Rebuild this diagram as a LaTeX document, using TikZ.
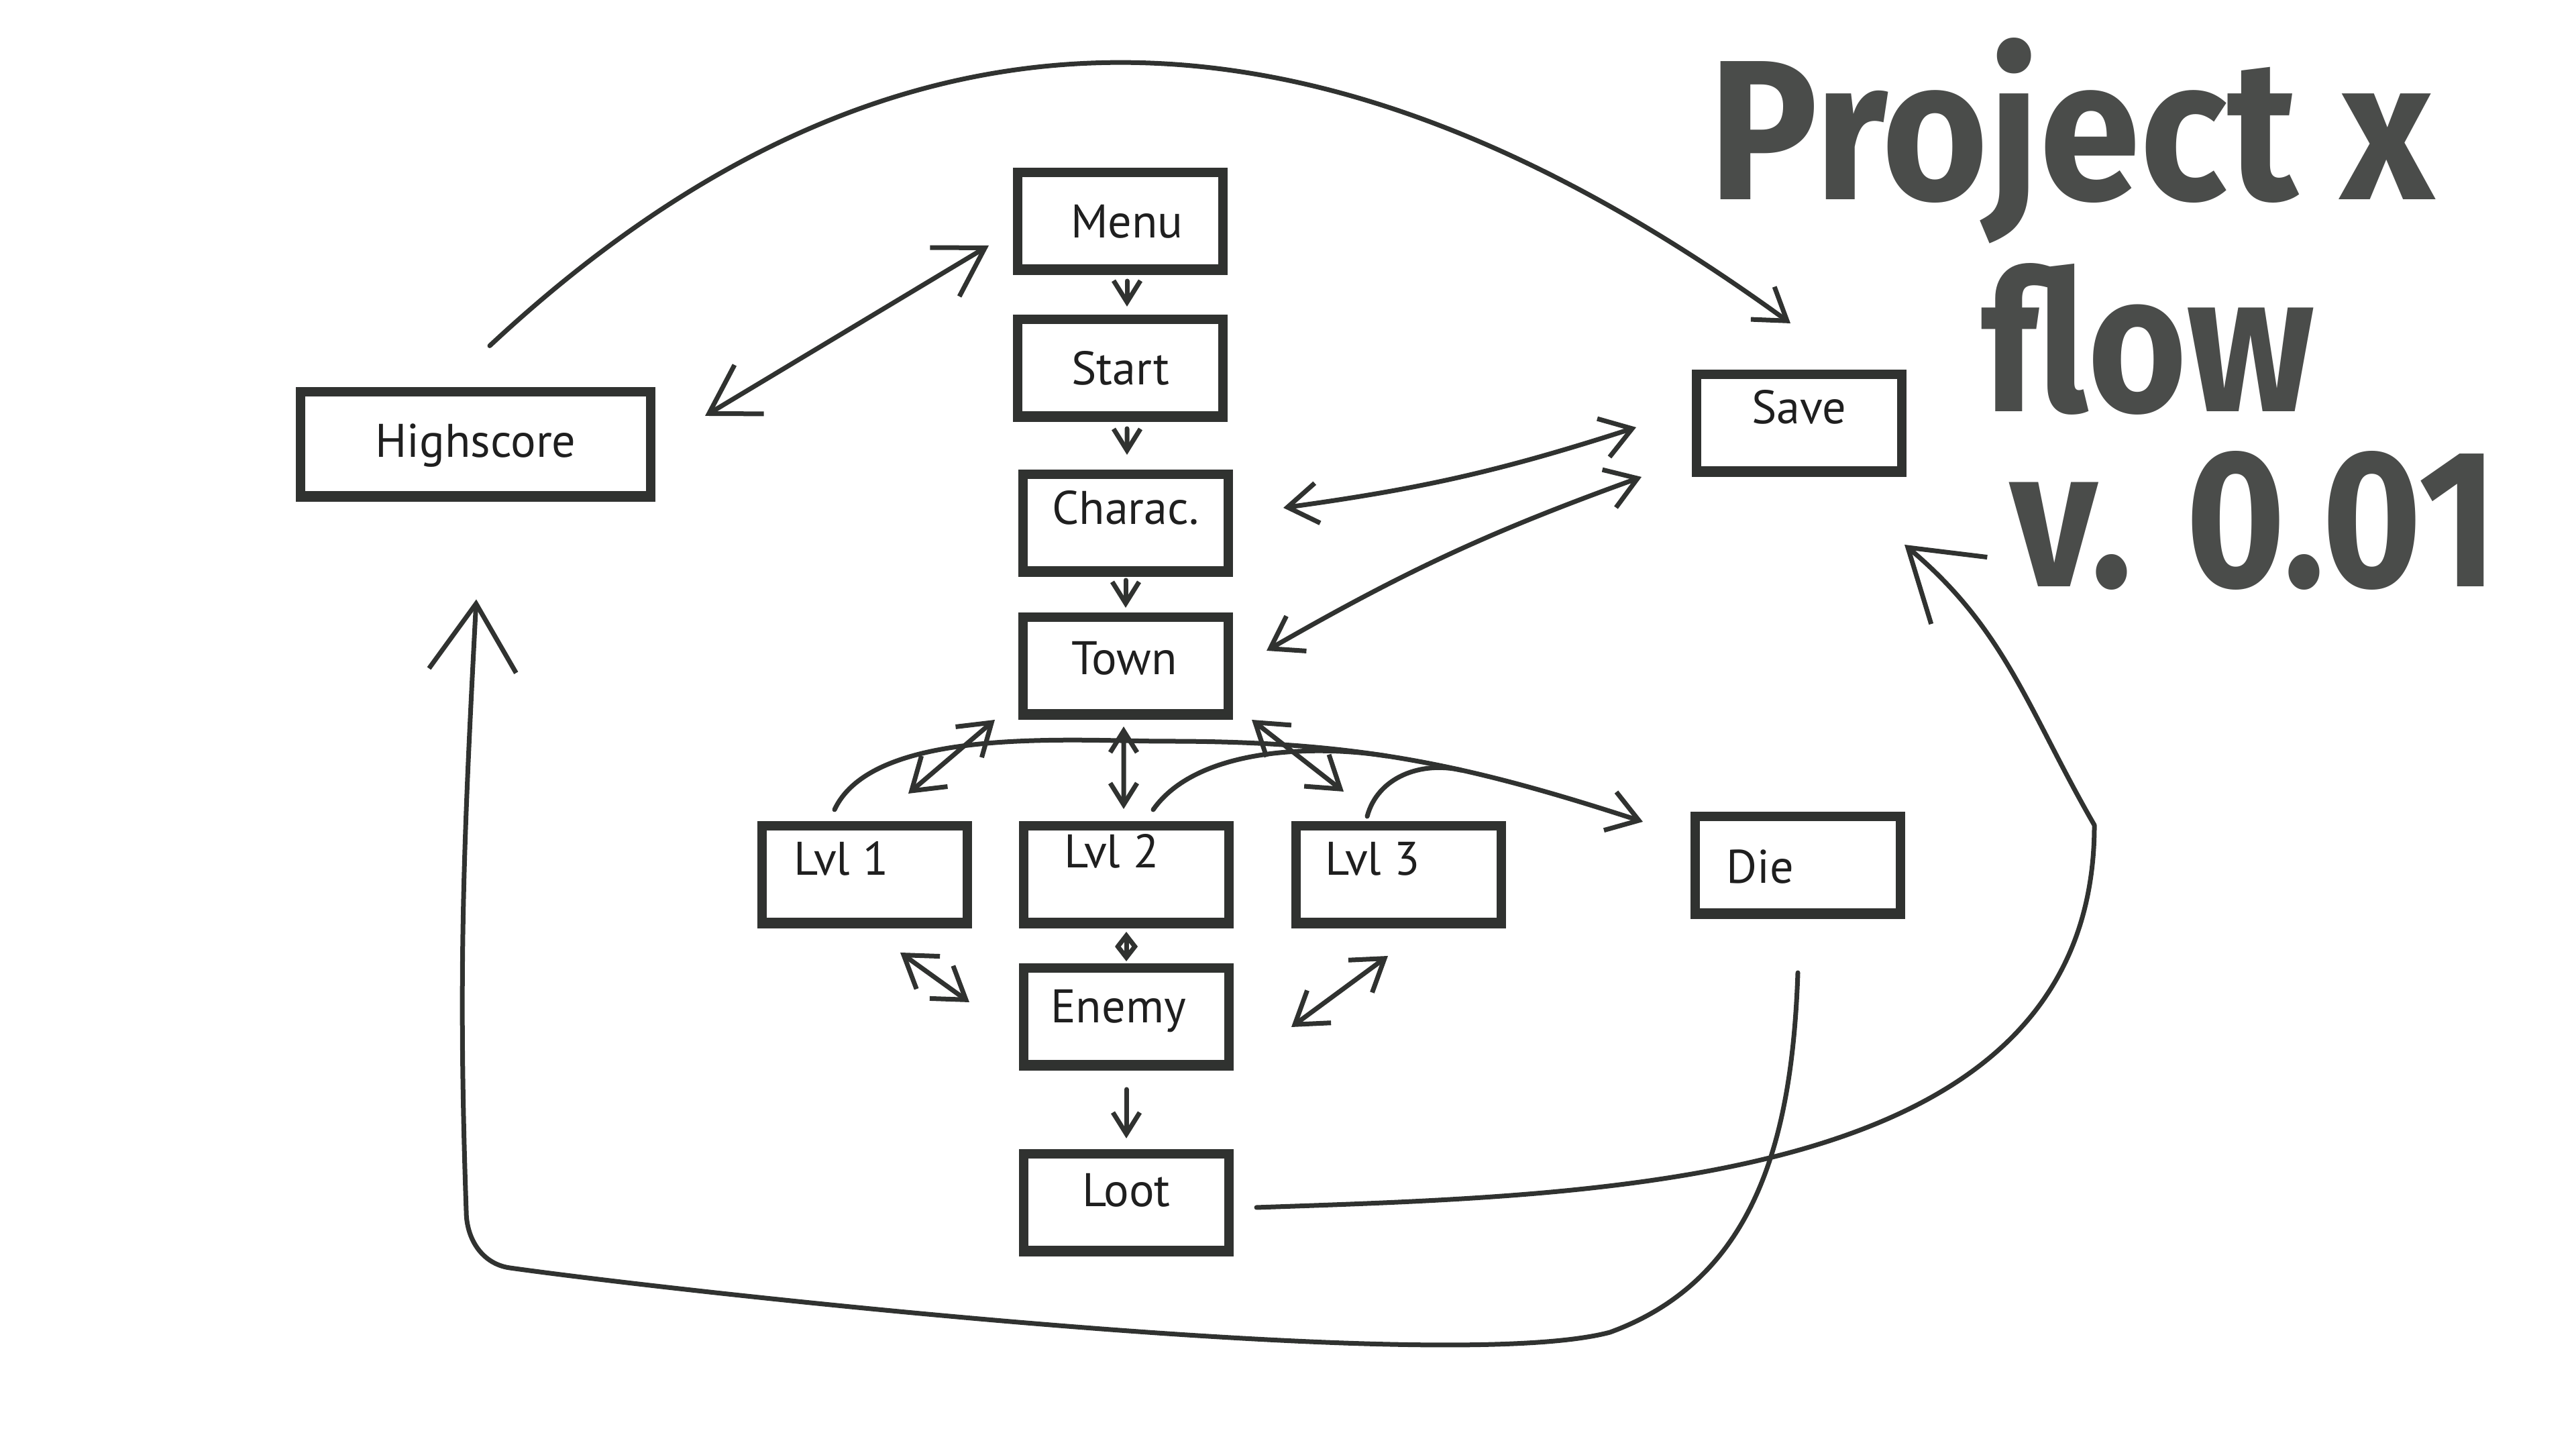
\documentclass[tikz,border=0pt]{standalone}
\usepackage{fontspec}
\usepackage{graphicx}
\setmainfont{PT Sans}
\newfontfamily\handfont{Fira Sans}
\usetikzlibrary{arrows.meta}

\definecolor{ink}{RGB}{48,50,48}
\definecolor{brush}{RGB}{74,76,74}

\tikzset{
  screen/.style={draw=ink, fill=white, line width=1.4mm, minimum width=3.06cm,
    minimum height=1.46cm, inner sep=0pt,
    path picture={\fill[ink] (path picture bounding box.south west) rectangle
      ([yshift=0.9mm]path picture bounding box.south east);}},
  boxtext/.style={font=\fontsize{20}{24}\selectfont, text=black!88, text height=4.9mm,
    text depth=0pt, inner sep=0pt},
  flow/.style={draw=ink, line width=0.7mm, line cap=round, line join=round},
  title/.style={font=\handfont\bfseries, text=brush, inner sep=0pt, anchor=base west},
  tinybarb/.tip={Straight Barb[length=1.8mm,width=2.8mm]},
  smallbarb/.tip={Straight Barb[length=3.2mm,width=4mm]},
  widebarb/.tip={Straight Barb[length=7mm,width=8.5mm]},
  bigbarb/.tip={Straight Barb[length=1cm,width=1.3cm]},
}

\begin{document}
\begin{tikzpicture}[>={Straight Barb[length=4.5mm,width=6mm]}]
    \useasboundingbox (0,0) rectangle (38.4,21.6);
    % Screens
    \node[screen, label={[boxtext, xshift=1mm]center:Menu}] (menu) at (16.70,18.30) {};
    \node[screen, label={[boxtext]center:Start}] (start) at (16.70,16.11) {};
    \node[screen, label={[boxtext, yshift=2.3mm]center:Charac.}] (charac) at (16.78,13.80) {};
    \node[screen, label={[boxtext, xshift=-0.2mm, yshift=1.2mm]center:Town}] (town) at (16.78,11.67) {};
    \node[screen, label={[boxtext, xshift=-3.5mm, yshift=2.4mm]center:Lvl 1}] (lvlone) at (12.89,8.56) {};
    \node[screen, label={[boxtext, xshift=-2.2mm, yshift=3.5mm]center:Lvl 2}] (lvltwo) at (16.79,8.56) {};
    \node[screen, label={[boxtext, xshift=-3.9mm, yshift=2.4mm]center:Lvl 3}] (lvlthree) at (20.85,8.56) {};
    \node[screen, label={[boxtext, xshift=-1.2mm, yshift=1.6mm]center:Enemy}] (enemy) at (16.79,6.44) {};
    \node[screen, label={[boxtext, yshift=1.9mm]center:Loot}] (loot) at (16.79,3.67) {};
    \node[screen, label={[boxtext, xshift=-5.6mm, yshift=-0.2mm]center:Die}] (die) at (26.80,8.70) {};
    \node[screen, label={[boxtext, yshift=2.4mm]center:Save}] (save) at (26.82,15.29) {};
    \node[screen, minimum width=5.22cm, minimum height=1.57cm,
      label={[boxtext, yshift=0.6mm]center:Highscore}] (highscore) at (7.09,14.97) {};
    % Title
    \node[title] (project) at (25.47,18.62) {\resizebox{10.81cm}{2.41cm}{Project x}};
    \node[title] (flowtitle) at (29.53,15.46) {\resizebox{4.96cm}{2.21cm}{flow}};
    \node[title] (version) at (29.96,12.85) {\resizebox{7.26cm}{2.02cm}{v. 0.01}};
    % Down the middle
    \draw[flow, -smallbarb, shorten <=0.9mm, shorten >=1.2mm] ([xshift=1mm]menu.south) -- ([xshift=1mm]start.north);
    \draw[flow, -smallbarb, shorten <=1mm, shorten >=2.2mm] ([xshift=1mm]start.south) -- ([xshift=0.2mm]charac.north);
    \draw[flow, -smallbarb, shorten <=0.5mm, shorten >=0.7mm] (charac.south) -- (town.north);
    \draw[flow, smallbarb-smallbarb, shorten <=1mm, shorten >=1.8mm] ([xshift=-0.3mm]town.south) -- ([xshift=-0.4mm]lvltwo.north);
    \draw[flow, tinybarb-tinybarb, shorten <=0.5mm, shorten >=0.3mm] (lvltwo.south) -- (enemy.north);
    \draw[flow, -smallbarb, shorten <=2.8mm, shorten >=1.6mm] (enemy.south) -- (loot.north);
    % Levels
    \draw[flow, <->] ([xshift=-3.5mm]town.south west) -- ([shift={(6.5mm,4.1mm)}]lvlone.north);
    \draw[flow, <->] ([xshift=2.8mm]town.south east) -- ([shift={(-8.2mm,4.4mm)}]lvlthree.north);
    \draw[flow, <->] ([shift={(5.3mm,-3.6mm)}]lvlone.south) -- ([shift={(-7.4mm,2.2mm)}]enemy.west);
    \draw[flow, <->] ([shift={(-1.6mm,-4.1mm)}]lvlthree.south) -- ([shift={(8.6mm,-1.5mm)}]enemy.east);
    % Levels over to die
    \draw[flow, ->] ([shift={(-4.5mm,1.7mm)}]lvlone.north) to[out=65, in=180, looseness=0.7] (17.4,10.55)
        to[out=0, in=162] coordinate[pos=0.45] (mergetwo) coordinate[pos=0.62] (mergethree)
        ([shift={(-7.1mm,-1.5mm)}]die.north west);
    \draw[flow] ([shift={(4mm,1.7mm)}]lvltwo.north) to[out=55, in=171, looseness=0.8] (mergetwo);
    \draw[flow] ([shift={(-4.7mm,0.7mm)}]lvlthree.north) to[out=75, in=167] (mergethree);
    % Highscore and save
    \draw[flow, widebarb-widebarb] ([shift={(7.4mm,4.3mm)}]highscore.east) -- ([shift={(-3.6mm,-3.6mm)}]menu.west);
    \draw[flow, <->] ([shift={(7.5mm,2.3mm)}]charac.east) to[bend right=5] ([shift={(-8.3mm,-0.6mm)}]save.west);
    \draw[flow, <->] ([shift={(5mm,2.3mm)}]town.east) to[bend left=5] ([xshift=-7.5mm]save.south west);
    \draw[flow, ->] ([shift={(2.1mm,6.2mm)}]highscore.north) to[out=43, in=144, looseness=1.12] ([shift={(-1.3mm,6.9mm)}]save.north);
    % Loot back up to save
    \draw[flow, -bigbarb] ([shift={(3.4mm,-0.7mm)}]loot.east) to[out=2, in=-90] (31.22,9.3)
        to[out=120, in=-40] ([shift={(-0.3mm,-10.1mm)}]save.south east);
    % Die round the bottom to highscore
    \draw[flow, -bigbarb] ([yshift=-8mm]die.south) to[out=-92, in=20] (24.0,1.74)
        to[out=195, in=-8, looseness=0.4] (7.6,2.70) to[out=172, in=-90] (6.95,3.55)
        to[out=92, in=-93] ([shift={(0.1mm,-14.5mm)}]highscore.south);
\end{tikzpicture}
\end{document}
